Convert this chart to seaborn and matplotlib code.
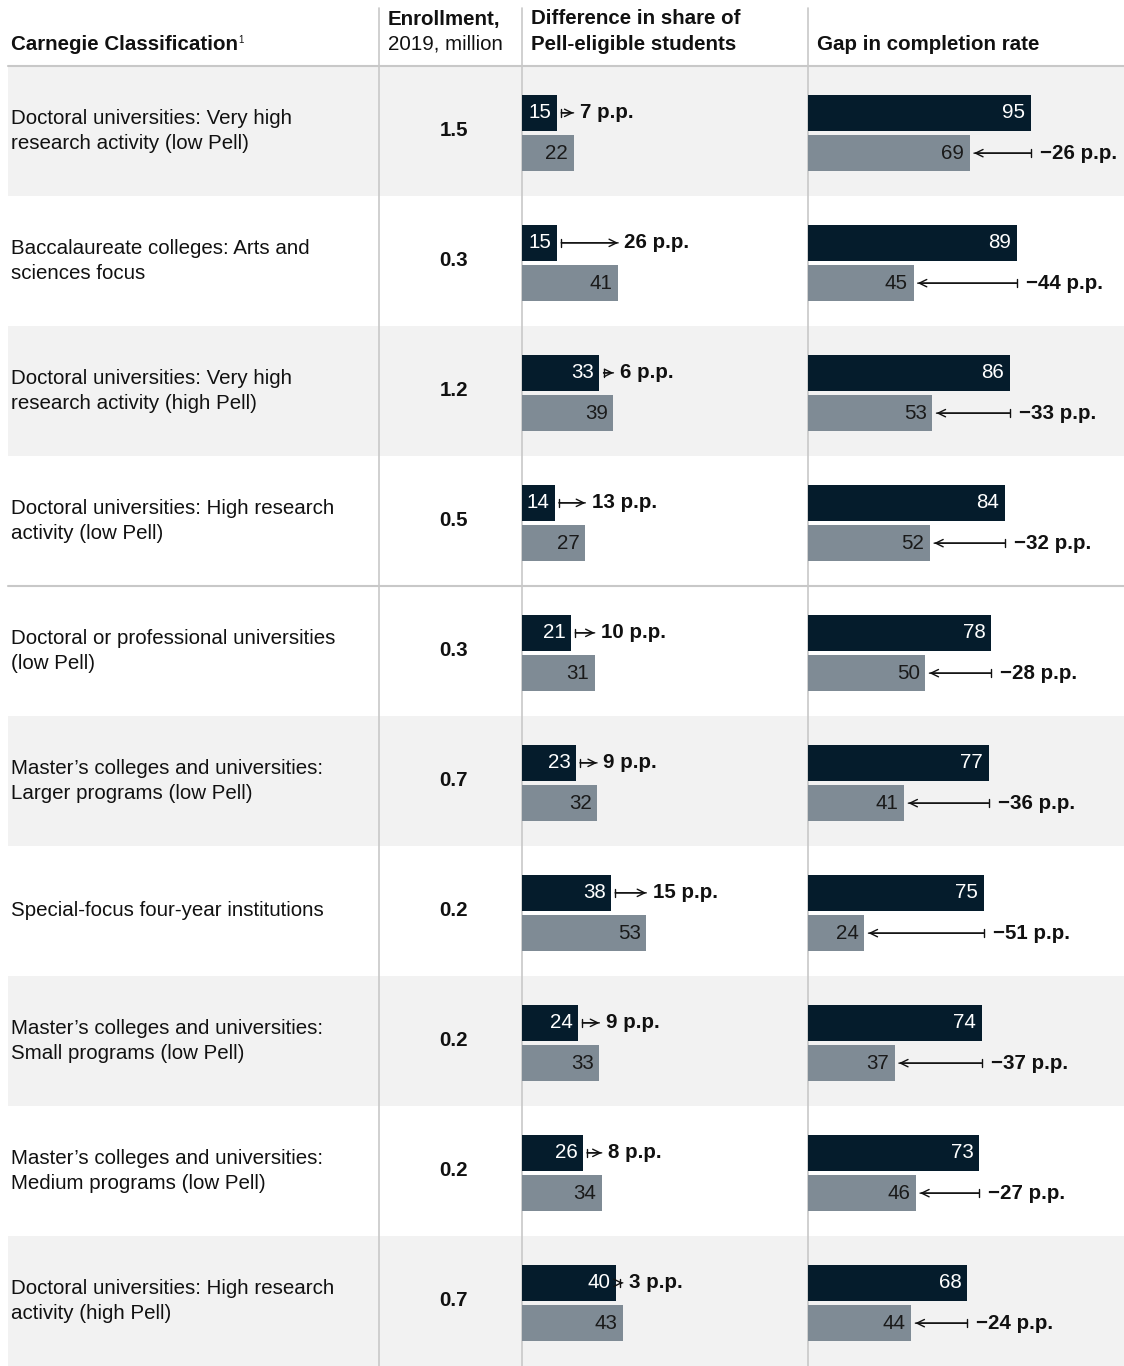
import numpy as np
import pandas as pd
import seaborn as sns
from matplotlib import pyplot as plt

# ---- data ----
categories = [
    "Doctoral universities: Very high\nresearch activity (low Pell)",
    "Baccalaureate colleges: Arts and\nsciences focus",
    "Doctoral universities: Very high\nresearch activity (high Pell)",
    "Doctoral universities: High research\nactivity (low Pell)",
    "Doctoral or professional universities\n(low Pell)",
    "Master\u2019s colleges and universities:\nLarger programs (low Pell)",
    "Special-focus four-year institutions",
    "Master\u2019s colleges and universities:\nSmall programs (low Pell)",
    "Master\u2019s colleges and universities:\nMedium programs (low Pell)",
    "Doctoral universities: High research\nactivity (high Pell)",
]
enrollment = [1.5, 0.3, 1.2, 0.5, 0.3, 0.7, 0.2, 0.2, 0.2, 0.7]
pell_top = [15, 15, 33, 14, 21, 23, 38, 24, 26, 40]
pell_bottom = [22, 41, 39, 27, 31, 32, 53, 33, 34, 43]
completion_top = [95, 89, 86, 84, 78, 77, 75, 74, 73, 68]
completion_bottom = [69, 45, 53, 52, 50, 41, 24, 37, 46, 44]
shaded_rows = [True, False, True, False, False, True, False, True, False, True]

DARK = "#051c2c"
GREY = "#7f8b95"
SHADE = "#f2f2f2"
LINE = "#c8c8c8"

sns.set_theme(style="white")
plt.rcParams['font.family'] = ['Liberation Sans', 'DejaVu Sans']
FS = 14.8
HEAD = '->,head_length=0.45,head_width=0.22'
TAIL = ']-,widthA=0.25,lengthA=0'

W, H = 1124, 1366
TOP, ROW = 66, 130
fig = plt.figure(figsize=(W / 100, H / 100), dpi=100)

# background / table layout axes in pixel units
bg = fig.add_axes([0, 0, 1, 1])
bg.set_xlim(0, W)
bg.set_ylim(H, 0)
bg.axis('off')

for i, s in enumerate(shaded_rows):
    if s:
        bg.fill_between([8, W], TOP + i * ROW, TOP + (i + 1) * ROW, color=SHADE, lw=0, zorder=0)
for x in [379, 522, 808]:
    bg.plot([x, x], [8, H], color=LINE, lw=1.2, zorder=1)
bg.plot([8, W], [TOP, TOP], color=LINE, lw=1.5, zorder=1)
bg.plot([8, W], [TOP + 4 * ROW, TOP + 4 * ROW], color=LINE, lw=1.5, zorder=1)

# header
t = bg.text(11, 44, "Carnegie Classification", fontsize=FS, fontweight='bold', va='center', color='#111')
bg.annotate("1", xy=(1, 0.95), xycoords=t, fontsize=7, va='top', ha='left', color='#111')
bg.text(388, 19, "Enrollment,", fontsize=FS, fontweight='bold', va='center', color='#111')
bg.text(388, 44, "2019, million", fontsize=FS, va='center', color='#111')
bg.text(531, 19, "Difference in share of", fontsize=FS, fontweight='bold', va='center', color='#111')
bg.text(531, 44, "Pell-eligible students", fontsize=FS, fontweight='bold', va='center', color='#111')
bg.text(817, 44, "Gap in completion rate", fontsize=FS, fontweight='bold', va='center', color='#111')

for i, (cat, e) in enumerate(zip(categories, enrollment)):
    yc = TOP + i * ROW + ROW / 2
    bg.text(11, yc, cat, fontsize=FS, va='center', ha='left', linespacing=1.4, color='#111')
    bg.text(454, yc, f"{e:.1f}", fontsize=FS, fontweight='bold', va='center', ha='center', color='#111')

pell = pd.DataFrame({
    'category': categories * 2,
    'group': ['top'] * 10 + ['bottom'] * 10,
    'value': pell_top + pell_bottom,
})
completion = pd.DataFrame({
    'category': categories * 2,
    'group': ['top'] * 10 + ['bottom'] * 10,
    'value': completion_top + completion_bottom,
})

area_h = (H - TOP) / H
shift = -2 / H
ax1 = fig.add_axes([522 / W, shift, 286 / W, area_h])
ax2 = fig.add_axes([808 / W, shift, 316 / W, area_h])

for ax, df, xmax in [(ax1, pell, 286 / 2.345), (ax2, completion, 316 / 2.345)]:
    sns.barplot(data=df, y='category', x='value', hue='group', orient='h',
                palette={'top': DARK, 'bottom': GREY}, saturation=1,
                width=0.62, gap=0.1, linewidth=0, legend=False, ax=ax)
    ax.set_xlim(0, xmax)
    ax.set_ylim(9.5, -0.5)
    ax.patch.set_alpha(0)
    ax.axis('off')
    top_bars, bottom_bars = ax.containers[0], ax.containers[1]
    for bars, col in [(top_bars, 'white'), (bottom_bars, '#1a1a1a')]:
        for p in bars:
            w = p.get_width()
            ax.annotate(f"{w:.0f}", (w, p.get_y() + p.get_height() / 2), xytext=(-4, 0),
                        textcoords='offset points', ha='right', va='center',
                        fontsize=FS, color=col)


def diff_arrow(ax, start, end, y, sa, sb):
    for style in (HEAD, TAIL):
        ax.annotate('', xy=(end, y), xytext=(start, y),
                    arrowprops=dict(arrowstyle=style, lw=1, color='#111', shrinkA=sa, shrinkB=sb))


# difference arrows, Pell share: from top bar end to bottom bar end at top-bar level
for pt, pb in zip(ax1.containers[0], ax1.containers[1]):
    y = pt.get_y() + pt.get_height() / 2
    a, b = pt.get_width(), pb.get_width()
    diff_arrow(ax1, a, b, y, 3, 0)
    ax1.annotate(f"{b - a:.0f} p.p.", (b, y), xytext=(4.5, 0), textcoords='offset points',
                 ha='left', va='center', fontsize=FS, fontweight='bold', color='#111')

# completion gap arrows: from top bar end back to bottom bar end at bottom-bar level
for pt, pb in zip(ax2.containers[0], ax2.containers[1]):
    y = pb.get_y() + pb.get_height() / 2
    a, b = pt.get_width(), pb.get_width()
    diff_arrow(ax2, a, b, y, 0, 3)
    ax2.annotate(f"\u2212{a - b:.0f} p.p.", (a, y), xytext=(6.5, 0), textcoords='offset points',
                 ha='left', va='center', fontsize=FS, fontweight='bold', color='#111')

fig.savefig('out.png', dpi=100)
